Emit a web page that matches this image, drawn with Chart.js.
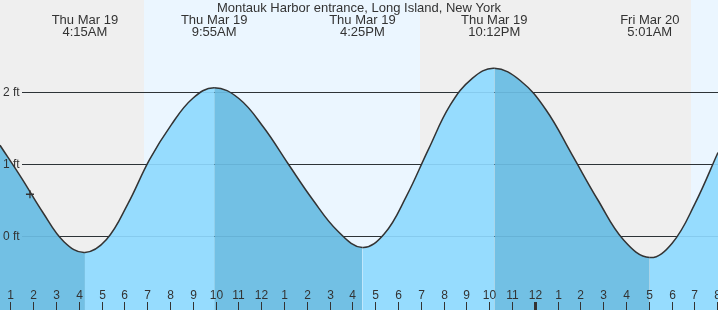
<!DOCTYPE html>
<html>
<head>
<meta charset="utf-8">
<script src="https://cdn.jsdelivr.net/npm/chart.js@4"></script>
<style>
  html, body { margin: 0; padding: 0; background: #fff; }
  #c { display: block; }
</style>
</head>
<body>
<canvas id="c" width="718" height="310"></canvas>
<script>
// ---------------- data ----------------
const chartTitle = 'Montauk Harbor entrance, Long Island, New York';

// tide height (ft) at hour since Thu Mar 19 00:00
const tideHours = [0.5265, 1.48, 2.40, 3.33, 4.25, 5.194, 6.139, 7.083, 8.028, 8.972, 9.917, 11.0, 12.083, 13.167, 14.25, 15.333, 16.417, 17.381, 18.344, 19.308, 20.272, 21.236, 22.2, 23.336, 24.472, 25.608, 26.744, 27.881, 29.017, 30.0, 31.0, 32.01];
const tideFeet  = [1.26, 0.80, 0.33, -0.08, -0.23, -0.05, 0.45, 1.06, 1.54, 1.91, 2.06, 1.91, 1.51, 1.00, 0.50, 0.07, -0.16, 0.03, 0.55, 1.20, 1.82, 2.19, 2.33, 2.16, 1.75, 1.13, 0.50, -0.06, -0.30, -0.10, 0.45, 1.16];

// high / low events
const eventHours = [4.25, 9.917, 16.417, 22.2, 29.017];
const eventDays  = ['Thu Mar 19', 'Thu Mar 19', 'Thu Mar 19', 'Thu Mar 19', 'Fri Mar 20'];
const eventTimes = ['4:15AM', '9:55AM', '4:25PM', '10:12PM', '5:01AM'];

// daylight bands (hours)
const dayStarts = [6.84, 30.83];
const dayEnds   = [18.94, 33];

// current time marker
const nowHour = [1.84];
const nowFeet = [0.58];

// axis ticks
const yTicks = [0, 1, 2];
const yTickLabels = ['0 ft', '1 ft', '2 ft'];
const hourTicks = [1,2,3,4,5,6,7,8,9,10,11,12,13,14,15,16,17,18,19,20,21,22,23,24,25,26,27,28,29,30,31,32];
const hourLabels = ['1','2','3','4','5','6','7','8','9','10','11','12','1','2','3','4','5','6','7','8','9','10','11','12','1','2','3','4','5','6','7','8'];
const midnightHour = 24;

// ---------------- styles ----------------
const X_MIN = 0.5265, X_MAX = 32.01, Y_MIN = -1.028, Y_MAX = 3.278;
const NIGHT = '#efefef', DAY = '#ebf6ff';
const RISING = '#96dcfe', FALLING = '#72c0e4';
const INK = '#333333';
const FONT = '"Liberation Sans", Arial, sans-serif';

const tidePoints = tideHours.map((h, i) => ({ x: h, y: tideFeet[i] }));
const nowPoints = nowHour.map((h, i) => ({ x: h, y: nowFeet[i] }));

const decor = {
  id: 'decor',
  beforeDraw(chart) {
    const { ctx, chartArea: a, scales: { x } } = chart;
    ctx.save();
    ctx.fillStyle = NIGHT;
    ctx.fillRect(a.left, a.top, a.right - a.left, a.bottom - a.top);
    ctx.fillStyle = DAY;
    dayStarts.forEach((s, i) => {
      const x0 = Math.max(a.left, x.getPixelForValue(s));
      const x1 = Math.min(a.right, x.getPixelForValue(dayEnds[i]));
      ctx.fillRect(Math.round(x0), a.top, Math.round(x1) - Math.round(x0), a.bottom - a.top);
    });
    ctx.restore();
  },
  beforeDatasetsDraw(chart) {
    const { ctx, chartArea: a, scales: { y } } = chart;
    ctx.save();
    ctx.strokeStyle = INK;
    ctx.lineWidth = 1;
    yTicks.forEach(v => {
      const py = Math.round(y.getPixelForValue(v)) + 0.5;
      ctx.beginPath(); ctx.moveTo(22, py); ctx.lineTo(a.right, py); ctx.stroke();
    });
    ctx.restore();
  },
  afterDatasetsDraw(chart) {
    const { ctx, chartArea: a, scales: { x, y } } = chart;
    ctx.save();
    // faint grid lines over the water
    ctx.strokeStyle = 'rgba(0,60,100,0.10)';
    ctx.lineWidth = 1;
    yTicks.forEach(v => {
      const py = Math.round(y.getPixelForValue(v)) + 0.5;
      ctx.beginPath(); ctx.moveTo(22, py); ctx.lineTo(a.right, py); ctx.stroke();
    });
    // y labels
    ctx.fillStyle = INK;
    ctx.font = '12px ' + FONT;
    ctx.textAlign = 'left';
    ctx.textBaseline = 'middle';
    yTicks.forEach((v, i) => {
      ctx.fillText(yTickLabels[i], 3, Math.round(y.getPixelForValue(v)) + 0.5);
    });
    // hour ticks & labels
    ctx.font = '12px ' + FONT;
    ctx.textAlign = 'center';
    ctx.textBaseline = 'middle';
    hourTicks.forEach((h, i) => {
      const px = Math.floor(x.getPixelForValue(h));
      const w = h === midnightHour ? 3 : 1;
      ctx.fillStyle = INK;
      ctx.fillRect(px - Math.floor(w / 2), 302, w, 8);
      ctx.fillText(hourLabels[i], px + 0.5, 296);
    });
    // title
    ctx.font = '13px ' + FONT;
    ctx.fillText(chartTitle, 359, 8);
    // events
    eventHours.forEach((h, i) => {
      const px = x.getPixelForValue(h);
      ctx.fillText(eventDays[i], px, 20);
      ctx.fillText(eventTimes[i], px, 32);
    });
    ctx.restore();
  }
};

new Chart(document.getElementById('c'), {
  type: 'line',
  data: {
    datasets: [
      {
        type: 'scatter',
        data: nowPoints,
        pointStyle: 'cross',
        pointRadius: 4,
        pointBorderWidth: 1.3,
        borderColor: INK,
        backgroundColor: INK,
        showLine: false,
        order: 1
      },
      {
        data: tidePoints,
        borderColor: INK,
        borderWidth: 1.5,
        pointRadius: 0,
        tension: 0.4,
        fill: 'start',
        backgroundColor: RISING,
        segment: {
          backgroundColor: c => (c.p1.parsed.y > c.p0.parsed.y ? RISING : FALLING)
        },
        order: 2
      }
    ]
  },
  options: {
    responsive: false,
    devicePixelRatio: 1,
    animation: false,
    layout: { padding: 0, autoPadding: false },
    plugins: { legend: { display: false }, tooltip: { enabled: false }, title: { display: false } },
    scales: {
      x: { type: 'linear', min: X_MIN, max: X_MAX, display: false },
      y: { min: Y_MIN, max: Y_MAX, display: false }
    }
  },
  plugins: [decor]
});
</script>
</body>
</html>
